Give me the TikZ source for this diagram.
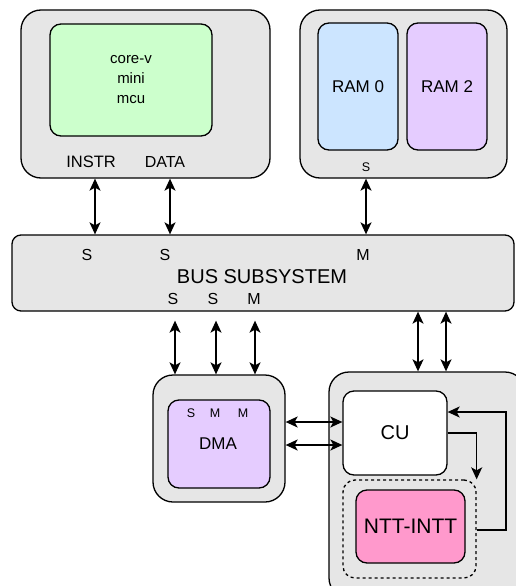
\documentclass[tikz,border=0pt]{standalone}
\usepackage{fontspec}
\setmainfont{Liberation Sans}
\usetikzlibrary{arrows.meta}
\definecolor{outergray}{HTML}{E6E6E6}
\definecolor{coregreen}{HTML}{CCFFCC}
\definecolor{ramblue}{HTML}{CCE5FF}
\definecolor{rampurple}{HTML}{E5CCFF}
\definecolor{nttpink}{HTML}{FF99CC}
\tikzset{
  outerbox/.style={draw=black, fill=outergray, line width=1.3pt, rounded corners=20pt, inner sep=0pt},
  innerbox/.style={draw=black, line width=1.3pt, rounded corners=11pt, inner sep=0pt, align=center},
  lbl/.style={inner sep=0pt, font=\fontsize{16}{18}\selectfont},
  smalllbl/.style={inner sep=0pt, font=\fontsize{12.5}{14}\selectfont},
  biarrow/.style={line width=1.4pt, {Stealth[length=12pt,width=11pt,inset=3pt]}-{Stealth[length=12pt,width=11pt,inset=3pt]}},
  onearrow/.style={line width=1.4pt, -{Stealth[length=12pt,width=11pt,inset=3pt]}},
}
\begin{document}
\begin{tikzpicture}[x=1pt,y=-1pt]
\useasboundingbox (0,0) rectangle (516,586);
\clip (0,0) rectangle (516,586);
\fill[white] (0,0) rectangle (516,586);
% core
\node[outerbox, minimum width=249pt, minimum height=168pt] (core) at (145.5,94) {};
\node[innerbox, fill=coregreen, minimum width=162pt, minimum height=112pt,
      font=\fontsize{15}{20}\selectfont] (mcu) at (131,80) {core-v\\mini\\mcu};
\node[lbl, font=\fontsize{16.5}{18}\selectfont] (instr) at (91,162) {INSTR};
\node[lbl] (data) at (165,162) {DATA};
% RAM
\node[outerbox, minimum width=207pt, minimum height=168pt] (ram) at (403.5,94) {};
\node[innerbox, fill=ramblue, minimum width=80pt, minimum height=127pt,
      font=\fontsize{17}{20}\selectfont] (ram0) at (358,86.5) {RAM 0};
\node[innerbox, fill=rampurple, minimum width=80pt, minimum height=127pt,
      font=\fontsize{17}{20}\selectfont] (ram2) at (447,86.5) {RAM 2};
\node[smalllbl] (rams) at (366,167) {S};
% bus
\node[draw=black, fill=outergray, line width=1.3pt, rounded corners=9pt,
      minimum width=502pt, minimum height=76pt, inner sep=0pt] (bus) at (263,273) {};
\node[inner sep=0pt, font=\fontsize{20}{22}\selectfont] (bustxt) at (262,277) {BUS SUBSYSTEM};
\node[lbl] (bs1) at (87,255) {S};
\node[lbl] (bs2) at (165,255) {S};
\node[lbl] (bm1) at (363,255) {M};
\node[lbl] (bs3) at (173,299) {S};
\node[lbl] (bs4) at (213,299) {S};
\node[lbl] (bm2) at (254,299) {M};
% DMA
\node[outerbox, minimum width=132pt, minimum height=127pt] (dmaout) at (219,438.5) {};
\node[innerbox, fill=rampurple, minimum width=102pt, minimum height=88pt] (dma) at (219,444) {};
\node[inner sep=0pt, font=\fontsize{17}{20}\selectfont] (dmatxt) at (218,444) {DMA};
\node[smalllbl] (ds) at (191,413) {S};
\node[smalllbl] (dm1) at (215,413) {M};
\node[smalllbl] (dm2) at (243,413) {M};
% accelerator
\node[outerbox, minimum width=196pt, minimum height=226pt] (acc) at (427,485) {};
\node[innerbox, fill=white, minimum width=104pt, minimum height=84pt,
      font=\fontsize{20}{22}\selectfont] (cu) at (395,433) {CU};
\node[draw=black, dashed, line width=1.3pt, rounded corners=12pt, inner sep=0pt,
      minimum width=133pt, minimum height=98pt] (dash) at (409.5,529) {};
\node[innerbox, fill=nttpink, minimum width=109pt, minimum height=73pt,
      font=\fontsize{21}{23}\selectfont] (ntt) at (410.5,526.5) {NTT-INTT};
% connectors top
\draw[biarrow] (core.south -| 95,0) -- (bus.north -| 95,0);
\draw[biarrow] (core.south -| 170,0) -- (bus.north -| 170,0);
\draw[biarrow] (ram.south -| 366,0) -- (bus.north -| 366,0);
% connectors bottom
\draw[biarrow, shorten <=9pt] (bus.south -| 175,0) -- (dmaout.north -| 175,0);
\draw[biarrow, shorten <=9pt] (bus.south -| 216,0) -- (dmaout.north -| 216,0);
\draw[biarrow, shorten <=9pt] (bus.south -| 255,0) -- (dmaout.north -| 255,0);
\draw[biarrow] (bus.south -| 418,0) -- (acc.north -| 418,0);
\draw[biarrow] (bus.south -| 446,0) -- (acc.north -| 446,0);
% DMA <-> CU
\draw[biarrow] (dmaout.east |- 0,422) -- (cu.west |- 0,422);
\draw[biarrow] (dmaout.east |- 0,445) -- (cu.west |- 0,445);
% CU -> NTT and feedback
\coordinate (fbx) at (506,0);
\draw[onearrow] (cu.east |- 0,433) -| (dash.north east);
\draw[onearrow] (dash.east |- 0,530) -| (fbx |- 0,412) -- (cu.east |- 0,412);
\end{tikzpicture}
\end{document}
